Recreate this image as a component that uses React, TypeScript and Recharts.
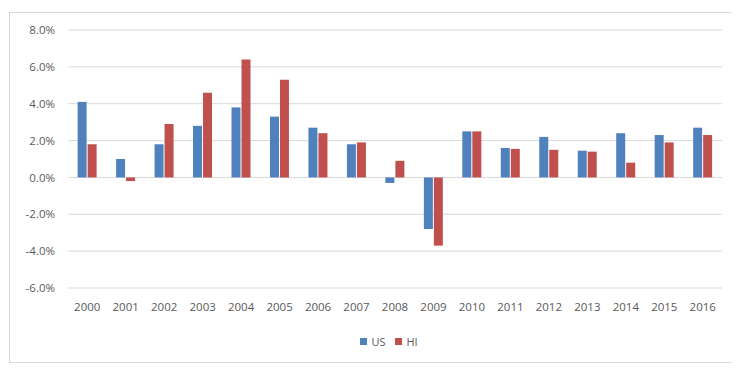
import { Bar, BarChart, CartesianGrid, Legend, XAxis, YAxis } from "recharts";

const years = [
  "2000", "2001", "2002", "2003", "2004", "2005", "2006", "2007", "2008",
  "2009", "2010", "2011", "2012", "2013", "2014", "2015", "2016",
];
const usGrowth = [4.1, 1.0, 1.8, 2.8, 3.8, 3.3, 2.7, 1.8, -0.3, -2.8, 2.5, 1.6, 2.2, 1.45, 2.4, 2.3, 2.7];
const hiGrowth = [1.8, -0.2, 2.9, 4.6, 6.4, 5.3, 2.4, 1.9, 0.9, -3.7, 2.5, 1.55, 1.5, 1.4, 0.8, 1.9, 2.3];
const yTicks = [-6, -4, -2, 0, 2, 4, 6, 8];
const seriesOrder = ["US", "HI"];

const blue = "#4f81bd";
const red = "#c0504d";
const textGrey = "#595959";
const font = "'Open Sans', 'Liberation Sans', sans-serif";

const data = years.map((year, i) => ({ year, US: usGrowth[i], HI: hiGrowth[i] }));

export default function App() {
  return (
    <div style={{ paddingTop: 4, paddingLeft: 1 }}>
      <div
        style={{
          width: 725,
          height: 351,
          border: "1px solid #d9d9d9",
          boxSizing: "border-box",
          background: "#fff",
          fontFamily: font,
        }}
      >
        <BarChart
          width={723}
          height={349}
          data={data}
          margin={{ top: 17, right: 11, bottom: 15, left: 0 }}
          barCategoryGap="25%"
          barGap={1}
        >
          <CartesianGrid vertical={false} stroke="#d9d9d9" />
          <XAxis
            dataKey="year"
            axisLine={false}
            tickLine={false}
            tickMargin={9}
            height={41}
            tick={{ fontSize: 11.5, fill: textGrey, fontFamily: font }}
            interval={0}
          />
          <YAxis
            domain={[-6, 8]}
            ticks={yTicks}
            axisLine={false}
            tickLine={false}
            tickMargin={7}
            width={58}
            tickFormatter={(v: number) => `${v.toFixed(1)}%`}
            tick={{ fontSize: 11.5, fill: textGrey, fontFamily: font }}
          />
          <Legend
            height={18}
            iconType="square"
            iconSize={7}
            wrapperStyle={{ paddingLeft: 28 }}
            itemSorter={(item: { value: string }) => seriesOrder.indexOf(item.value)}
            formatter={(value: string) => (
              <span style={{ color: textGrey, fontSize: 11, fontFamily: font }}>{value}</span>
            )}
          />
          <Bar dataKey="US" fill={blue} isAnimationActive={false} />
          <Bar dataKey="HI" fill={red} isAnimationActive={false} />
        </BarChart>
      </div>
    </div>
  );
}
